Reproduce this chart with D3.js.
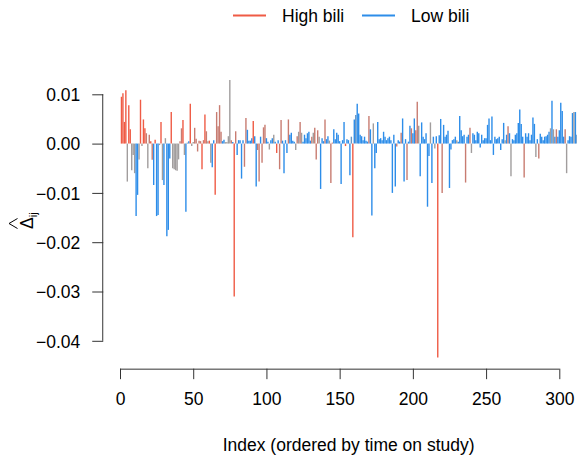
<!DOCTYPE html>
<html>
<head>
<meta charset="utf-8">
<script src="https://cdn.jsdelivr.net/npm/d3@7"></script>
<style>
  html, body { margin: 0; padding: 0; background: #fff; }
  svg { display: block; font-family: "Liberation Sans", Arial, Helvetica, sans-serif; }
</style>
</head>
<body>
<svg id="chart" width="577" height="455"></svg>
<script>
// Per-observation influence on the fitted coefficient, ordered by time on study.
const deltaHat = [
  0.0095, 0.0102, 0.0044, 0.0108, -0.0077, 0.0078, 0.0029, -0.0054, -0.0023, -0.0060,
  -0.0147, -0.0104, -0.0032, 0.0089, -0.0005, 0.0049, 0.0031, 0.0021, -0.0050, 0.0018,
  0.0005, -0.0033, -0.0084, 0.0008, -0.0147, -0.0145, -0.0003, 0.0044, -0.0074, -0.0084,
  0.0011, -0.0188, -0.0175, -0.0030, 0.0064, -0.0050, -0.0052, -0.0054, -0.0055, -0.0032,
  0.0005, 0.0031, 0.0048, -0.0023, -0.0138, 0.0002, 0.0005, 0.0081, -0.0005, 0.0003,
  0.0032, 0.0010, -0.0016, 0.0006, 0.0005, -0.0052, 0.0007, 0.0059, 0.0025, 0.0005,
  0.0006, -0.0039, -0.0048, 0.0007, -0.0104, 0.0064, 0.0035, 0.0078, 0.0024, 0.0005,
  0.0008, 0.0003, 0.0003, 0.0015, 0.0129, 0.0007, 0.0003, -0.0310, 0.0025, -0.0023,
  0.0007, 0.0007, -0.0071, 0.0007, -0.0047, 0.0052, 0.0028, 0.0006, 0.0006, 0.0011,
  0.0046, 0.0015, -0.0087, -0.0013, -0.0077, 0.0014, -0.0039, 0.0033, 0.0038, 0.0011,
  0.0004, -0.0012, 0.0007, 0.0011, 0.0018, 0.0004, -0.0019, 0.0007, -0.0052, 0.0048,
  0.0006, -0.0060, 0.0007, -0.0019, 0.0049, 0.0018, 0.0022, 0.0006, 0.0004, -0.0013,
  0.0015, 0.0024, 0.0044, 0.0022, 0.0004, 0.0018, 0.0011, 0.0021, 0.0024, 0.0006,
  0.0014, 0.0022, 0.0032, -0.0032, 0.0027, 0.0014, -0.0092, 0.0011, 0.0005, 0.0049,
  0.0009, 0.0015, 0.0006, -0.0080, 0.0002, 0.0029, 0.0009, 0.0022, 0.0018, 0.0005,
  -0.0082, 0.0007, 0.0044, -0.0005, 0.0009, 0.0007, -0.0064, 0.0014, -0.0190, 0.0049,
  0.0058, 0.0081, 0.0061, 0.0018, 0.0015, 0.0007, 0.0014, 0.0006, 0.0004, 0.0056,
  0.0029, -0.0146, 0.0041, -0.0050, -0.0019, 0.0044, 0.0009, 0.0011, 0.0007, 0.0024,
  0.0014, 0.0007, 0.0011, 0.0014, 0.0007, -0.0100, 0.0018, -0.0087, -0.0006, 0.0007,
  0.0004, 0.0022, 0.0051, -0.0077, 0.0009, -0.0074, 0.0004, 0.0036, 0.0031, 0.0021,
  0.0051, 0.0027, 0.0085, 0.0036, -0.0066, 0.0043, 0.0014, 0.0009, 0.0021, -0.0128,
  -0.0025, 0.0043, -0.0080, 0.0014, -0.0010, 0.0015, -0.0434, 0.0017, 0.0050, -0.0100,
  0.0038, 0.0014, 0.0018, 0.0026, -0.0090, -0.0012, 0.0007, 0.0009, 0.0014, 0.0007,
  0.0004, 0.0056, 0.0027, 0.0015, 0.0018, -0.0079, 0.0014, 0.0018, 0.0032, -0.0019,
  0.0021, 0.0018, 0.0007, 0.0024, 0.0021, -0.0008, 0.0018, 0.0007, 0.0011, 0.0011,
  0.0038, 0.0051, 0.0007, 0.0055, -0.0023, 0.0014, 0.0009, 0.0011, 0.0014, -0.0013,
  0.0009, 0.0042, 0.0007, 0.0018, 0.0035, 0.0021, -0.0066, 0.0009, 0.0007, 0.0018,
  0.0021, 0.0042, 0.0069, 0.0040, 0.0014, -0.0069, 0.0021, 0.0014, 0.0021, 0.0007,
  0.0018, 0.0053, 0.0040, -0.0027, 0.0009, -0.0030, 0.0020, 0.0014, 0.0007, 0.0014,
  0.0015, 0.0018, 0.0024, 0.0031, 0.0087, 0.0029, 0.0014, 0.0029, 0.0014, 0.0027,
  0.0083, 0.0066, 0.0014, 0.0029, -0.0060, 0.0007, 0.0015, 0.0014, 0.0062, 0.0064,
  0.0064, 0.0018
];

// Relative bilirubin level of each observation: 0 = high, 1 = low.
const biliLevel = [
  0, 0, 0, 0, .5, 0, 0, .5, .5, .5,
  1, 1, .5, 0, .5, 0, 0, .25, .5, .25,
  0, .25, 1, 0, 1, 1, .5, 0, .5, 1,
  .5, 1, 1, 1, 0, .5, .5, .5, .5, .5,
  .25, .25, 0, .5, 1, .5, 1, 0, .5, .5,
  .25, .25, .25, .25, .25, 0, .25, 0, .25, .5,
  0, .5, 1, 1, 0, .25, .25, .25, .25, 1,
  1, .5, .5, .5, .5, .25, 1, 0, .25, 1,
  1, 1, 1, 1, .25, .25, 1, 1, 1, 1,
  0, 1, 1, .25, .25, 1, .25, .25, .25, 1,
  1, .5, 1, 1, .5, 1, 0, 1, .25, .25,
  1, 1, 1, 1, .25, 1, 1, 1, 1, .5,
  .25, .5, .25, .5, 1, 1, 1, 1, 1, 1,
  .25, .5, .25, .25, .25, .5, 1, 1, 1, .25,
  1, 1, .5, .25, .25, 1, 1, 1, 1, 1,
  1, 1, 1, 0, 1, 1, 1, .75, 0, 1,
  .75, 1, 1, 1, 1, 1, 1, 1, 1, .25,
  1, 1, .5, 1, 1, 1, 1, 1, 1, 1,
  1, 1, 1, 1, 1, 1, 1, 1, .25, 1,
  1, .25, 1, 1, 1, .25, 1, 1, .25, 1,
  1, .25, .25, .5, 1, 1, 1, 1, 1, 1,
  1, .5, 1, 1, .5, 1, 0, 1, 1, .25,
  1, 1, 1, 1, 1, 1, 1, 1, 1, .5,
  1, 1, 1, 1, 1, .25, 1, 1, .25, .5,
  1, 1, 1, 1, 1, 1, 1, 1, 1, 1,
  1, 1, 1, 1, 1, 1, 1, 1, 1, 1,
  1, 1, .5, 1, .25, 1, .5, 1, 1, 1,
  1, 1, 1, 1, 1, .25, 1, 1, 1, 1,
  1, 1, 1, .5, 1, .25, 1, 1, 1, 1,
  1, 1, 1, .5, 1, .5, 1, .25, 1, 1,
  1, 1, 1, .25, .5, 1, 1, 1, 1, .5,
  1, .75
];

const xTicks = [0, 50, 100, 150, 200, 250, 300];
const yTicks = [-0.04, -0.03, -0.02, -0.01, 0.00, 0.01];
const legendLabels = ["High bili", "Low bili"];
const xTitle = "Index (ordered by time on study)";

const HIGH = "#EF5B45", MID = "#A19D9D", LOW = "#2D8DE9";
const FONT = 17.5;

const svg = d3.select("#chart");

const n = deltaHat.length;
const pad = 0.04;
const xr = [1, n], yr = d3.extent(deltaHat);
const xDom = [xr[0] - pad * (xr[1] - xr[0]), xr[1] + pad * (xr[1] - xr[0])];
const yDom = [yr[0] - pad * (yr[1] - yr[0]), yr[1] + pad * (yr[1] - yr[0])];

const x = d3.scaleLinear()
  .domain([0, 300])
  .range([120, 559.3]);
const y = d3.scaleLinear()
  .domain([0, 0.01])
  .range([143.6, 94.3]);

const left = x(xDom[0]);
const bottom = y(yDom[0]);

const color = d3.scaleLinear()
  .domain([0, 0.5, 1])
  .range([HIGH, MID, LOW])
  .interpolate(d3.interpolateRgb);

// spikes
svg.append("g")
  .selectAll("line")
  .data(deltaHat)
  .join("line")
  .attr("x1", (d, i) => x(i + 1))
  .attr("x2", (d, i) => x(i + 1))
  .attr("y1", y(0))
  .attr("y2", d => y(d))
  .attr("stroke", (d, i) => color(biliLevel[i]))
  .attr("stroke-width", 1.4);

// x axis
const xAxis = d3.axisBottom(x)
  .tickValues(xTicks)
  .tickSize(10.5)
  .tickPadding(13)
  .tickFormat(d3.format("d"));
const gx = svg.append("g")
  .attr("transform", `translate(0,${bottom})`)
  .call(xAxis);
gx.select(".domain").attr("d", `M${x(0)},0.5H${x(300)}`);

// y axis
const yAxis = d3.axisLeft(y)
  .tickValues(yTicks)
  .tickSize(11)
  .tickPadding(12)
  .tickFormat(d3.format(".2f"));
const gy = svg.append("g")
  .attr("transform", `translate(${left},0)`)
  .call(yAxis);
gy.select(".domain").attr("d", `M-0.5,${y(0.01)}V${y(-0.04)}`);

[gx, gy].forEach(g => {
  g.selectAll("text").attr("font-size", FONT).attr("fill", "#000")
    .attr("font-family", '"Liberation Sans", Arial, sans-serif');
  g.selectAll(".domain, .tick line").attr("stroke", "#333");
});
gy.selectAll("text").attr("dy", "0.36em");

// axis titles
svg.append("text")
  .attr("x", (x(0) + x(300)) / 2 + 9)
  .attr("y", 451)
  .attr("text-anchor", "middle")
  .attr("font-size", FONT)
  .text(xTitle);

const ylab = svg.append("g")
  .attr("transform", "translate(33,229) rotate(-90)");
ylab.append("path")
  .attr("d", "M0.5,-15.5L5.5,-24L10.5,-15.5")
  .attr("fill", "none")
  .attr("stroke", "#000")
  .attr("stroke-width", 1);
const yt = ylab.append("text")
  .attr("font-size", FONT);
yt.append("tspan").text("Δ");
yt.append("tspan").attr("font-size", 11.5).attr("dy", 4).text("ij");

// legend
const legendX = [233, 362];
const legend = svg.append("g");
legendLabels.forEach((lab, k) => {
  legend.append("line")
    .attr("x1", legendX[k]).attr("x2", legendX[k] + 33)
    .attr("y1", 15.5).attr("y2", 15.5)
    .attr("stroke", k === 0 ? HIGH : LOW)
    .attr("stroke-width", 2);
  legend.append("text")
    .attr("x", legendX[k] + 49)
    .attr("y", 21.5)
    .attr("font-size", FONT)
    .text(lab);
});
</script>
</body>
</html>
